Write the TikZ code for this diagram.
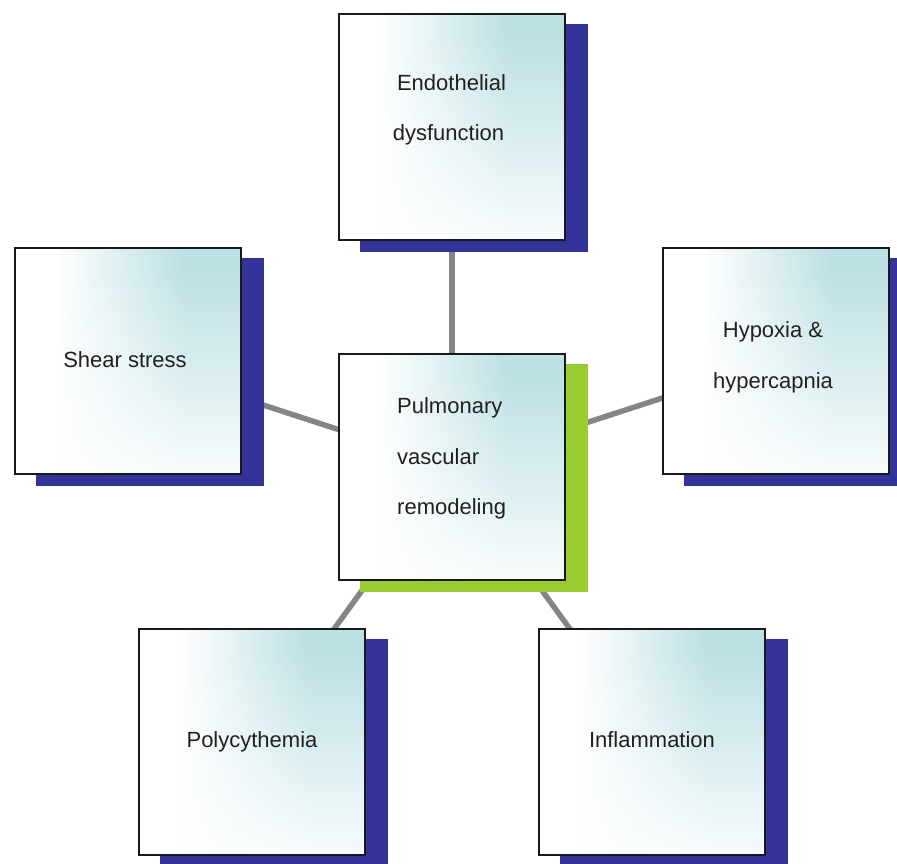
\documentclass[tikz,border=0pt]{standalone}
\usepackage{fontspec}
\setmainfont{Liberation Sans}
\usetikzlibrary{shadows,backgrounds,fadings}
\definecolor{glow}{HTML}{BCE0E4}
\definecolor{navy}{HTML}{333399}
\definecolor{leaf}{HTML}{99CC33}
\definecolor{linkgray}{HTML}{858585}
\definecolor{ink}{HTML}{231F20}
\tikzfading[name=southopaque, top color=transparent!100, bottom color=transparent!0]
\begin{document}
\begin{tikzpicture}[x=1pt,y=-1pt,
  box/.style={draw=black!90, line width=2pt, fill=white,
    minimum width=226pt, minimum height=226pt, inner sep=0pt,
    path picture={
      \coordinate (pp) at (path picture bounding box.north west);
      \shade[left color=white, right color=glow] ([shift={(40,0)}]pp) rectangle ([shift={(170,226)}]pp);
      \fill[glow] ([shift={(170,0)}]pp) rectangle ([shift={(226,226)}]pp);
      \fill[white, path fading=southopaque] ([shift={(0,20)}]pp) rectangle ([shift={(226,250)}]pp);
    }},
  navyshadow/.style={drop shadow={shadow xshift=22pt, shadow yshift=-11pt, opacity=1, fill=navy, draw=navy, line width=2pt}},
  greenshadow/.style={drop shadow={shadow xshift=22pt, shadow yshift=-11pt, opacity=1, fill=leaf, draw=leaf, line width=2pt}},
  lbl/.style={anchor=base, inner sep=0pt, text=ink, font=\fontsize{22}{26}\selectfont},
  link/.style={draw=linkgray, line width=5.5pt}]
\useasboundingbox (0,0) rectangle (897,863);
\node[box, navyshadow] (endo) at (452,126.5) {};
\node[box, greenshadow] (pvr) at (452,466.5) {};
\node[box, navyshadow] (shear) at (128,361) {};
\node[box, navyshadow] (hypox) at (776,361) {};
\node[box, navyshadow] (poly) at (252,742) {};
\node[box, navyshadow] (infl) at (652,742) {};
\node[lbl] (endoA) at (451.5,90) {Endothelial};
\node[lbl] (endoB) at (448.5,140) {dysfunction};
\node[lbl, anchor=base west] (pvrA) at (397,413.5) {Pulmonary};
\node[lbl, anchor=base west] (pvrB) at (397,464) {vascular};
\node[lbl, anchor=base west] (pvrC) at (397,514.5) {remodeling};
\node[lbl] (shearA) at (125,367) {Shear stress};
\node[lbl] (hypoxA) at (773,337.5) {Hypoxia \&};
\node[lbl] (hypoxB) at (773,388.5) {hypercapnia};
\node[lbl] (polyA) at (252,747.5) {Polycythemia};
\node[lbl] (inflA) at (652,747.5) {Inflammation};
\begin{scope}[on background layer]
\draw[link] (endo.center) -- (pvr.center);
\draw[link] (shear.center) -- (pvr.center);
\draw[link] (hypox.center) -- (pvr.center);
\draw[link] (poly.center) -- (pvr.center);
\draw[link] (infl.center) -- (pvr.center);
\end{scope}
\end{tikzpicture}
\end{document}
